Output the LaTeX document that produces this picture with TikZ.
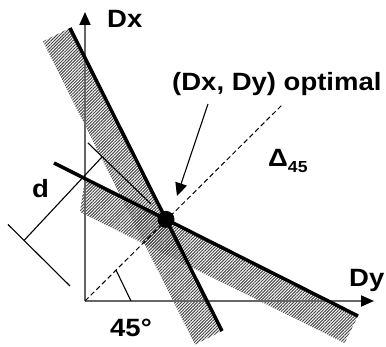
\documentclass[tikz,border=0pt]{standalone}
\usepackage{fontspec}
\setmainfont{Liberation Sans}
\newfontfamily\lblfont[FakeStretch=1.1]{Liberation Sans}
\usetikzlibrary{arrows.meta,patterns.meta}
\begin{document}
\begin{tikzpicture}[x=1pt,y=-1pt,
  band/.style={pattern={Lines[angle=45,distance=2.2pt,line width=1pt]},pattern color=black!72},
  thickline/.style={line width=3.5pt,black,line cap=butt},
  thinline/.style={line width=1.1pt,black},
  axisline/.style={line width=1.8pt,black!60,-{Triangle[length=13pt,width=11pt,color=black]}},
  pointer/.style={line width=1.1pt,black,-{Triangle[length=13pt,width=12pt]}},
  diag/.style={line width=1pt,black,dash pattern=on 5pt off 3pt},
  lbl/.style={font=\lblfont\fontsize{25}{25}\selectfont\bfseries,inner sep=0pt,anchor=base west},
  dotstyle/.style={circle,fill=black,inner sep=0pt,minimum size=17pt},
]
\useasboundingbox (0,0) rectangle (386,347);
% shaded bands
\fill[band] (43,41.5) -- (70,28) -- (222,331) -- (195,344.5) -- cycle;
\fill[band] (85,178.6) -- (358,316) -- (344.5,343) -- (80,212) -- cycle;
% axes
\coordinate (O) at (85,301);
\coordinate (ytip) at (85,12);
\coordinate (xtip) at (374,301);
\draw[axisline] (O) -- (ytip);
\draw[axisline] (O) -- (xtip);
% diagonal
\coordinate (dend) at (282,105);
\draw[diag] (O) -- (dend);
% thick lines
\coordinate (s1) at (70,28);
\coordinate (s2) at (222,331);
\coordinate (h1) at (54,163);
\coordinate (h2) at (358,316);
\draw[thickline] (s1) -- (s2);
\draw[thickline] (h1) -- (h2);
% optimum dot
\node[dotstyle] (opt) at (166,219.4) {};
% dimension d
\coordinate (e1a) at (88,143);
\coordinate (e1b) at (151,204);
\coordinate (e2a) at (8,224.5);
\coordinate (e2b) at (70,286);
\coordinate (d1) at (102,157);
\coordinate (d2) at (24,240.5);
\draw[thinline] (e1a) -- (e1b);
\draw[thinline] (e2a) -- (e2b);
\draw[thinline] (d1) -- (d2);
% angle mark
\coordinate (a1) at (116,270);
\coordinate (a2) at (131,301);
\draw[thinline] (a1) -- (a2);
% pointer
\coordinate (p1) at (208,104);
\coordinate (p2) at (177,196);
\draw[pointer] (p1) -- (p2);
% labels
\node[lbl] (lDx) at (107,28) {Dx};
\node[lbl] (lDy) at (349,287) {Dy};
\node[lbl] (lopt) at (172,91) {(Dx, Dy) optimal};
\node[lbl] (ld) at (32,198) {d};
\node[lbl] (l45) at (110,337) {45°};
\node[lbl] (ldelta) at (268,167) {Δ\raisebox{-0.22em}{\fontsize{16}{16}\selectfont 45}};
\end{tikzpicture}
\end{document}
